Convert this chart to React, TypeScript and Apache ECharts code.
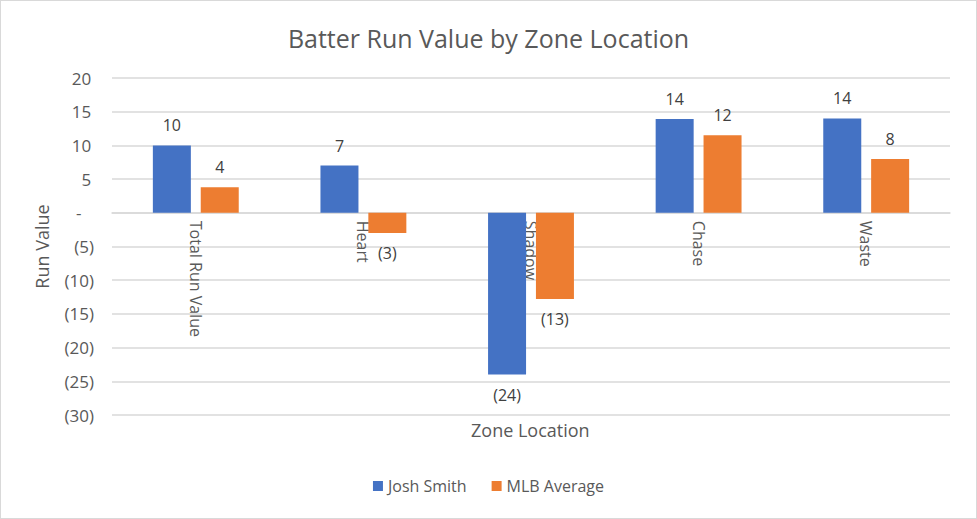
import React, { useEffect, useRef } from "react";
import * as echarts from "echarts";

const categories = ["Total Run Value", "Heart", "Shadow", "Chase", "Waste"];
const joshSmith = [10, 7, -24, 13.9, 14];
const mlbAverage = [3.8, -3, -12.8, 11.5, 8];
const yTicks = { min: -30, max: 20, interval: 5 };

const fmtLabel = (v: number) => {
  const r = Math.round(v);
  if (r === 0) return "-";
  return r < 0 ? `(${-r})` : `${r}`;
};
const fmtAxis = (v: number) => {
  if (v === 0) return "-\u2007\u2009";
  return v < 0 ? `(${-v})` : `${v}\u2009`;
};

const FONT = "'Open Sans', 'Noto Sans', sans-serif";
const GRAY = "#595959";

const GRID_TOP = 77;
const GRID_BOTTOM = 103;
const CHART_H = 517;

export default function App() {
  const ref = useRef<HTMLDivElement>(null);
  useEffect(() => {
    document.body.style.margin = "0";
    const chart = echarts.init(ref.current!, null, { renderer: "svg" });
    const mk = (arr: number[]) =>
      arr.map((v) => ({
        value: v,
        label: { position: v < 0 ? "bottom" : "top" },
      }));
    const gridH = CHART_H - GRID_TOP - GRID_BOTTOM;
    const zeroFromBottom = (gridH * (0 - yTicks.min)) / (yTicks.max - yTicks.min);
    chart.setOption({
      animation: false,
      textStyle: { fontFamily: FONT },
      title: {
        text: "Batter Run Value by Zone Location",
        left: "center",
        top: 19,
        textStyle: { fontFamily: FONT, fontSize: 25, fontWeight: "normal", color: GRAY },
      },
      legend: {
        bottom: 19,
        left: "center",
        itemWidth: 10,
        itemHeight: 10,
        itemGap: 25,
        icon: "rect",
        textStyle: { fontFamily: FONT, fontSize: 16, color: GRAY },
      },
      grid: {
        left: 111,
        right: 26,
        top: GRID_TOP,
        bottom: GRID_BOTTOM,
        containLabel: false,
        outerBoundsMode: "none",
      },
      xAxis: {
        type: "category",
        data: categories,
        offset: -zeroFromBottom,
        axisLine: { onZero: false, lineStyle: { color: "#D9D9D9", width: 1.5 } },
        axisTick: { show: false },
        axisLabel: {
          rotate: -90,
          margin: 8,
          fontFamily: FONT,
          fontSize: 16,
          color: GRAY,
        },
      },
      yAxis: {
        type: "value",
        min: yTicks.min,
        max: yTicks.max,
        interval: yTicks.interval,
        name: "Run Value",
        nameLocation: "middle",
        nameGap: 61,
        nameRotate: 90,
        nameTextStyle: { fontFamily: FONT, fontSize: 18, color: GRAY },
        axisLine: { show: false },
        axisTick: { show: false },
        axisLabel: {
          margin: 18,
          fontFamily: FONT,
          fontSize: 17,
          color: GRAY,
          formatter: fmtAxis,
        },
        splitLine: { lineStyle: { color: "#D9D9D9", width: 1.5 } },
      },
      graphic: [
        {
          type: "text",
          left: 470,
          top: 420,
          style: {
            text: "Zone Location",
            fontFamily: FONT,
            fontSize: 18,
            fill: GRAY,
          },
        },
      ],
      series: [
        {
          name: "Josh Smith",
          type: "bar",
          data: mk(joshSmith),
          barWidth: 38,
          barGap: "26%",
          itemStyle: { color: "#4472C4" },
          label: {
            show: true,
            distance: 12,
            fontFamily: FONT,
            fontSize: 16,
            color: "#404040",
            formatter: (p: any) => fmtLabel(p.value),
          },
        },
        {
          name: "MLB Average",
          type: "bar",
          data: mk(mlbAverage),
          barWidth: 38,
          itemStyle: { color: "#ED7D31" },
          label: {
            show: true,
            distance: 12,
            fontFamily: FONT,
            fontSize: 16,
            color: "#404040",
            formatter: (p: any) => fmtLabel(p.value),
          },
        },
      ],
    });
    return () => chart.dispose();
  }, []);
  return (
    <div
      style={{
        width: 977,
        height: 519,
        boxSizing: "border-box",
        border: "1px solid #D9D9D9",
        background: "#fff",
      }}
    >
      <div ref={ref} style={{ width: 975, height: 517 }} />
    </div>
  );
}
